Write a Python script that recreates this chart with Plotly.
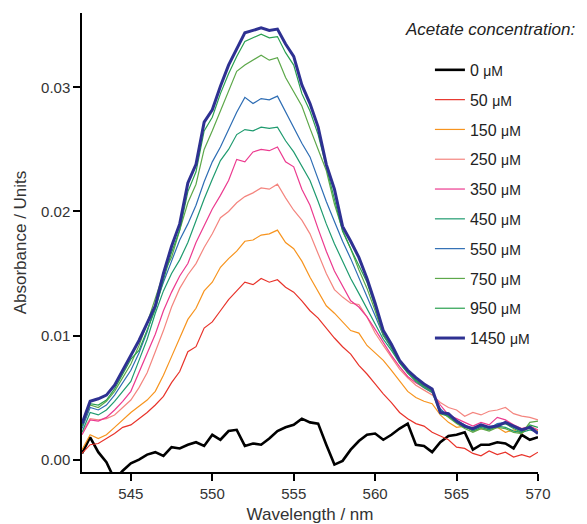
import plotly.graph_objects as go

wavelength = [542.0 + 0.5 * i for i in range(57)]

conc_labels = ["0", "50", "150", "250", "350", "450", "550", "750", "950", "1450"]

a0 = [0.0005, 0.0018, 0.0006, -0.0002, -0.0016, -0.0009, -0.0003, 0.0000, 0.0004, 0.0006,
      0.0003, 0.0010, 0.0009, 0.0012, 0.0014, 0.0011, 0.0020, 0.0016, 0.0023, 0.0024,
      0.0011, 0.0013, 0.0012, 0.0017, 0.0023, 0.0026, 0.0028, 0.0033, 0.0030, 0.0029,
      0.0012, -0.0004, -0.0001, 0.0008, 0.0015, 0.0020, 0.0021, 0.0016, 0.0020, 0.0025,
      0.0029, 0.0012, 0.0011, 0.0006, 0.0014, 0.0019, 0.0020, 0.0022, 0.0008, 0.0012,
      0.0012, 0.0014, 0.0013, 0.0009, 0.0020, 0.0016, 0.0018]

a50 = [0.0005, 0.0012, 0.0013, 0.0017, 0.0021, 0.0026, 0.0028, 0.0033, 0.0038, 0.0044,
       0.0051, 0.0062, 0.0071, 0.0087, 0.0091, 0.0106, 0.0111, 0.0120, 0.0129, 0.0136,
       0.0143, 0.0141, 0.0146, 0.0143, 0.0145, 0.0139, 0.0135, 0.0128, 0.0120, 0.0114,
       0.0106, 0.0098, 0.0091, 0.0085, 0.0076, 0.0069, 0.0061, 0.0053, 0.0046, 0.0038,
       0.0033, 0.0029, 0.0027, 0.0022, 0.0019, 0.0016, 0.0010, 0.0009, 0.0005, 0.0003,
       0.0007, 0.0004, 0.0006, 0.0002, 0.0004, 0.0002, 0.0006]

a150 = [0.0008, 0.0020, 0.0017, 0.0020, 0.0026, 0.0032, 0.0038, 0.0043, 0.0048, 0.0055,
        0.0068, 0.0083, 0.0098, 0.0113, 0.0122, 0.0136, 0.0143, 0.0155, 0.0162, 0.0168,
        0.0176, 0.0177, 0.0181, 0.0182, 0.0185, 0.0175, 0.0170, 0.0160, 0.0147, 0.0135,
        0.0124, 0.0118, 0.0111, 0.0104, 0.0102, 0.0092, 0.0086, 0.0080, 0.0072, 0.0063,
        0.0055, 0.0050, 0.0047, 0.0045, 0.0036, 0.0030, 0.0026, 0.0027, 0.0023, 0.0025,
        0.0024, 0.0026, 0.0022, 0.0024, 0.0021, 0.0027, 0.0023]

a250 = [0.0022, 0.0033, 0.0032, 0.0033, 0.0036, 0.0042, 0.0048, 0.0058, 0.0070, 0.0087,
        0.0104, 0.0123, 0.0138, 0.0149, 0.0158, 0.0171, 0.0182, 0.0195, 0.0200, 0.0207,
        0.0212, 0.0215, 0.0219, 0.0218, 0.0222, 0.0211, 0.0201, 0.0193, 0.0182, 0.0166,
        0.0150, 0.0137, 0.0131, 0.0126, 0.0125, 0.0115, 0.0102, 0.0092, 0.0082, 0.0073,
        0.0066, 0.0060, 0.0056, 0.0052, 0.0046, 0.0042, 0.0040, 0.0035, 0.0038, 0.0036,
        0.0039, 0.0040, 0.0042, 0.0037, 0.0035, 0.0034, 0.0032]

a350 = [0.0020, 0.0032, 0.0031, 0.0034, 0.0040, 0.0047, 0.0055, 0.0070, 0.0085, 0.0101,
        0.0120, 0.0135, 0.0148, 0.0158, 0.0175, 0.0188, 0.0202, 0.0213, 0.0225, 0.0242,
        0.0240, 0.0248, 0.0250, 0.0249, 0.0252, 0.0240, 0.0236, 0.0218, 0.0205, 0.0186,
        0.0168, 0.0152, 0.0140, 0.0128, 0.0123, 0.0115, 0.0105, 0.0094, 0.0084, 0.0075,
        0.0067, 0.0062, 0.0058, 0.0054, 0.0044, 0.0036, 0.0033, 0.0030, 0.0027, 0.0030,
        0.0028, 0.0034, 0.0032, 0.0028, 0.0025, 0.0027, 0.0024]

a450 = [0.0022, 0.0038, 0.0036, 0.0040, 0.0047, 0.0055, 0.0063, 0.0080, 0.0097, 0.0118,
        0.0136, 0.0150, 0.0161, 0.0175, 0.0193, 0.0210, 0.0226, 0.0241, 0.0250, 0.0262,
        0.0266, 0.0265, 0.0268, 0.0267, 0.0268, 0.0257, 0.0248, 0.0236, 0.0225, 0.0208,
        0.0190, 0.0174, 0.0160, 0.0146, 0.0134, 0.0122, 0.0110, 0.0097, 0.0088, 0.0078,
        0.0070, 0.0063, 0.0058, 0.0054, 0.0040, 0.0035, 0.0030, 0.0027, 0.0023, 0.0026,
        0.0024, 0.0027, 0.0026, 0.0023, 0.0022, 0.0024, 0.0022]

a550 = [0.0025, 0.0042, 0.0040, 0.0044, 0.0052, 0.0062, 0.0072, 0.0086, 0.0103, 0.0124,
        0.0143, 0.0160, 0.0177, 0.0190, 0.0205, 0.0224, 0.0240, 0.0252, 0.0266, 0.0280,
        0.0292, 0.0287, 0.0291, 0.0290, 0.0293, 0.0280, 0.0268, 0.0255, 0.0244, 0.0226,
        0.0208, 0.0192, 0.0176, 0.0162, 0.0147, 0.0132, 0.0116, 0.0100, 0.0090, 0.0079,
        0.0070, 0.0064, 0.0059, 0.0055, 0.0041, 0.0035, 0.0031, 0.0028, 0.0024, 0.0027,
        0.0025, 0.0029, 0.0030, 0.0026, 0.0023, 0.0027, 0.0022]

a750 = [0.0027, 0.0044, 0.0042, 0.0047, 0.0055, 0.0066, 0.0077, 0.0092, 0.0110, 0.0130,
        0.0150, 0.0163, 0.0185, 0.0207, 0.0222, 0.0250, 0.0265, 0.0281, 0.0297, 0.0313,
        0.0318, 0.0322, 0.0326, 0.0322, 0.0324, 0.0308, 0.0297, 0.0285, 0.0267, 0.0250,
        0.0233, 0.0206, 0.0185, 0.0170, 0.0153, 0.0138, 0.0120, 0.0100, 0.0091, 0.0079,
        0.0071, 0.0064, 0.0060, 0.0056, 0.0039, 0.0034, 0.0029, 0.0025, 0.0022, 0.0025,
        0.0023, 0.0026, 0.0025, 0.0022, 0.0021, 0.0030, 0.0031]

a950 = [0.0027, 0.0045, 0.0044, 0.0048, 0.0057, 0.0069, 0.0081, 0.0088, 0.0104, 0.0121,
        0.0145, 0.0167, 0.0185, 0.0216, 0.0232, 0.0265, 0.0276, 0.0295, 0.0311, 0.0325,
        0.0337, 0.0340, 0.0343, 0.0340, 0.0341, 0.0328, 0.0318, 0.0295, 0.0281, 0.0262,
        0.0236, 0.0212, 0.0184, 0.0170, 0.0157, 0.0143, 0.0123, 0.0101, 0.0090, 0.0078,
        0.0070, 0.0064, 0.0059, 0.0055, 0.0037, 0.0035, 0.0030, 0.0026, 0.0024, 0.0027,
        0.0025, 0.0028, 0.0029, 0.0025, 0.0022, 0.0028, 0.0026]

a1450 = [0.0029, 0.0047, 0.0049, 0.0052, 0.0060, 0.0072, 0.0085, 0.0096, 0.0110, 0.0124,
         0.0150, 0.0172, 0.0190, 0.0223, 0.0238, 0.0272, 0.0282, 0.0301, 0.0318, 0.0331,
         0.0344, 0.0346, 0.0348, 0.0346, 0.0347, 0.0335, 0.0325, 0.0302, 0.0287, 0.0268,
         0.0238, 0.0218, 0.0188, 0.0176, 0.0163, 0.0146, 0.0126, 0.0104, 0.0093, 0.0080,
         0.0072, 0.0066, 0.0061, 0.0057, 0.0038, 0.0037, 0.0031, 0.0027, 0.0025, 0.0028,
         0.0026, 0.0027, 0.0030, 0.0027, 0.0024, 0.0026, 0.0021]

series = [a0, a50, a150, a250, a350, a450, a550, a750, a950, a1450]
colors = ["#000000", "#E8332A", "#F7941E", "#F4857F", "#EC3A8F",
          "#1F9B6F", "#2E6DB4", "#5DA84A", "#2AA04F", "#2E3192"]
widths = [2.6, 1.2, 1.2, 1.2, 1.2, 1.2, 1.2, 1.2, 1.2, 3.0]

fig = go.Figure()
for lab, ys, col, w in zip(conc_labels, series, colors, widths):
    fig.add_trace(go.Scatter(
        x=wavelength, y=ys, mode="lines",
        line=dict(color=col, width=w),
        name=lab + " <span style='font-size:14px'>μM</span>",
        legendgroup=lab,
    ))

fig.update_layout(
    width=587, height=524,
    margin=dict(l=82, r=49, t=13, b=52),
    plot_bgcolor="white", paper_bgcolor="white",
    font=dict(family="Liberation Sans, Arial, sans-serif", size=15, color="#333333"),
    showlegend=True,
    legend=dict(
        x=0.763, y=0.913, xanchor="left", yanchor="top",
        bgcolor="rgba(0,0,0,0)",
        font=dict(size=16, color="#222222"),
        tracegroupgap=6,
        itemwidth=30,
    ),
    annotations=[dict(
        text="Acetate concentration:", xref="paper", yref="paper",
        x=0.703, y=0.963, xanchor="left", yanchor="middle", showarrow=False,
        font=dict(size=17, color="#222222", style="italic"),
    )],
)

fig.update_xaxes(
    range=[542, 570], tickvals=[545, 550, 555, 560, 565, 570],
    ticks="outside", ticklen=7, tickwidth=1.5, tickcolor="black",
    showline=True, linecolor="black", linewidth=1.5,
    showgrid=False, zeroline=False, automargin=False,
    title=dict(text="Wavelength / nm", font=dict(size=17), standoff=12),
)
fig.update_yaxes(
    range=[-0.001, 0.036], tickvals=[0.0, 0.01, 0.02, 0.03], tickformat=".2f",
    ticks="outside", ticklen=7, tickwidth=1.5, tickcolor="black",
    showline=True, linecolor="black", linewidth=1.5,
    showgrid=False, zeroline=False, automargin=False,
    title=dict(text="Absorbance / Units", font=dict(size=17), standoff=10),
)

fig.write_html("out.html", config={"displayModeBar": False},
               post_script="document.body.style.margin='0px';")
